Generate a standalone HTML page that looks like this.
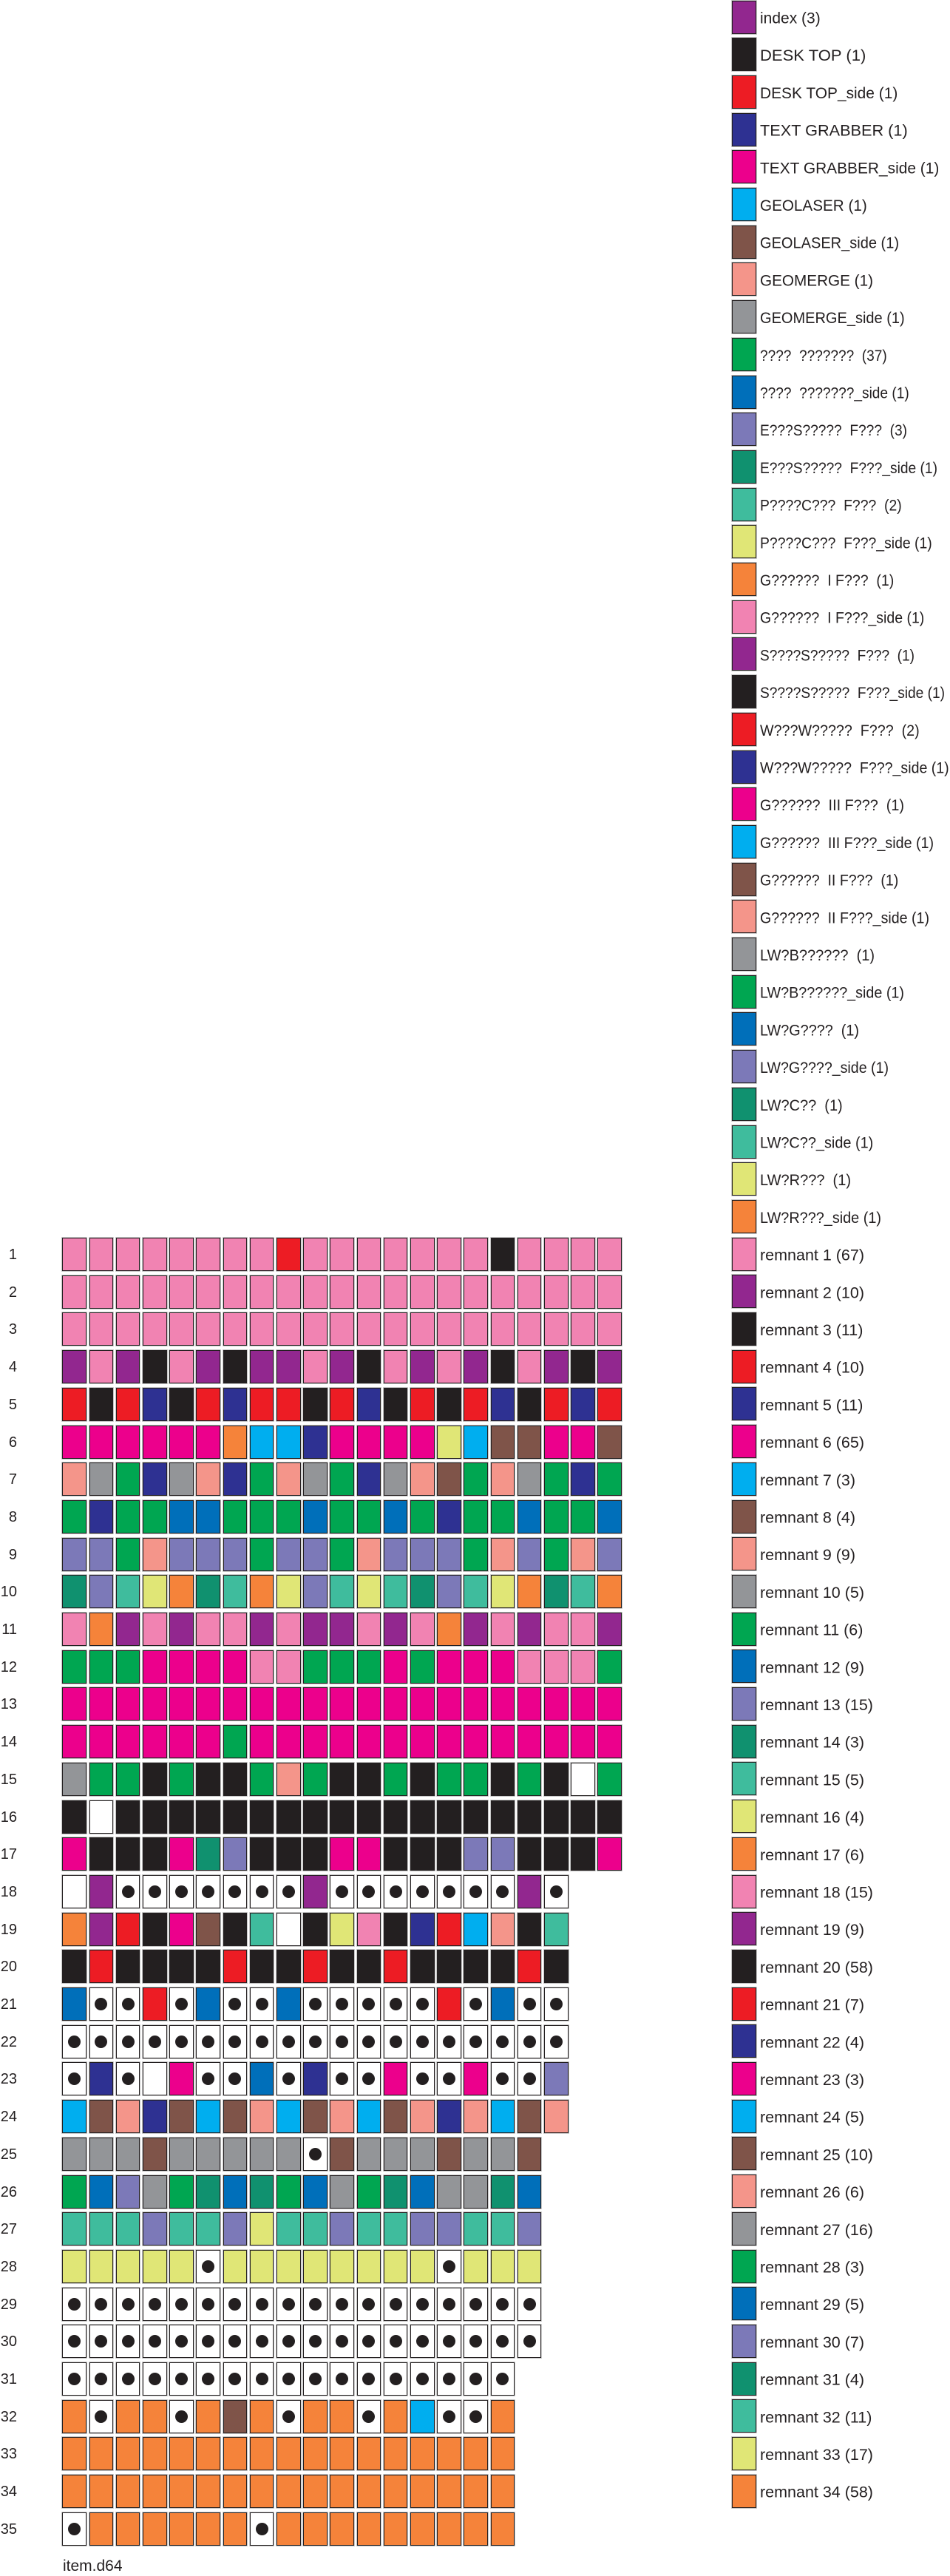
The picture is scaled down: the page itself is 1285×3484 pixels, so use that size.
<!DOCTYPE html>
<html><head><meta charset="utf-8">
<style>
html,body{margin:0;padding:0;background:#fff;}
body{width:1285px;height:3483px;position:relative;overflow:hidden;font-family:"Liberation Sans","DejaVu Sans",sans-serif;color:#231f20;}
.row{position:absolute;left:84.3px;height:45px;display:flex;gap:3.53px;}
.row i,.sw{display:block;box-sizing:border-box;width:32.7px;height:45px;border:1.6px solid #231f20;box-shadow:0 0 0 0.8px #b8b8b8;position:relative;}
.lab{position:absolute;left:0;width:23px;text-align:right;font-size:20px;height:45px;line-height:45px;padding-top:1px;}
.lg{position:absolute;left:990px;height:45px;}
.lg .sw{position:absolute;left:0;top:0;}
.p{background:#f183b2}.u{background:#92278f}.k{background:#231f20}.r{background:#ed1c24}
.n{background:#2e3192}.m{background:#ec008c}.c{background:#00aeef}.b{background:#7f5449}
.s{background:#f4958a}.g{background:#939598}.e{background:#00a651}.a{background:#006fba}
.v{background:#7c79b8}.t{background:#10916f}.ii{background:#3fbc9d}.y{background:#e0e676}
.o{background:#f5833a}.w{background:#fff}.x{background:#fff}
.x::after{content:"";position:absolute;left:50%;top:50%;width:17px;height:17px;margin:-8.5px 0 0 -8.5px;border-radius:50%;background:#231f20;}
.foot{position:absolute;left:85px;top:3458px;font-size:21px;line-height:26px;white-space:pre;}
svg.lt{position:absolute;left:0;top:0;}
svg.lt text{font-family:"Liberation Sans","DejaVu Sans",sans-serif;font-size:21.5px;fill:#231f20;white-space:pre;}
</style></head><body>

<!-- Legend swatches -->
<div class="lg" style="top:0.5px"><i class="sw u"></i></div>
<div class="lg" style="top:51.2px"><i class="sw k"></i></div>
<div class="lg" style="top:101.9px"><i class="sw r"></i></div>
<div class="lg" style="top:152.6px"><i class="sw n"></i></div>
<div class="lg" style="top:203.3px"><i class="sw m"></i></div>
<div class="lg" style="top:254px"><i class="sw c"></i></div>
<div class="lg" style="top:304.7px"><i class="sw b"></i></div>
<div class="lg" style="top:355.4px"><i class="sw s"></i></div>
<div class="lg" style="top:406.1px"><i class="sw g"></i></div>
<div class="lg" style="top:456.8px"><i class="sw e"></i></div>
<div class="lg" style="top:507.5px"><i class="sw a"></i></div>
<div class="lg" style="top:558.2px"><i class="sw v"></i></div>
<div class="lg" style="top:608.9px"><i class="sw t"></i></div>
<div class="lg" style="top:659.6px"><i class="sw ii"></i></div>
<div class="lg" style="top:710.3px"><i class="sw y"></i></div>
<div class="lg" style="top:761px"><i class="sw o"></i></div>
<div class="lg" style="top:811.7px"><i class="sw p"></i></div>
<div class="lg" style="top:862.4px"><i class="sw u"></i></div>
<div class="lg" style="top:913.1px"><i class="sw k"></i></div>
<div class="lg" style="top:963.8px"><i class="sw r"></i></div>
<div class="lg" style="top:1014.5px"><i class="sw n"></i></div>
<div class="lg" style="top:1065.2px"><i class="sw m"></i></div>
<div class="lg" style="top:1115.9px"><i class="sw c"></i></div>
<div class="lg" style="top:1166.6px"><i class="sw b"></i></div>
<div class="lg" style="top:1217.3px"><i class="sw s"></i></div>
<div class="lg" style="top:1268px"><i class="sw g"></i></div>
<div class="lg" style="top:1318.7px"><i class="sw e"></i></div>
<div class="lg" style="top:1369.4px"><i class="sw a"></i></div>
<div class="lg" style="top:1420.1px"><i class="sw v"></i></div>
<div class="lg" style="top:1470.8px"><i class="sw t"></i></div>
<div class="lg" style="top:1521.5px"><i class="sw ii"></i></div>
<div class="lg" style="top:1572.2px"><i class="sw y"></i></div>
<div class="lg" style="top:1622.9px"><i class="sw o"></i></div>
<div class="lg" style="top:1673.6px"><i class="sw p"></i></div>
<div class="lg" style="top:1724.3px"><i class="sw u"></i></div>
<div class="lg" style="top:1775px"><i class="sw k"></i></div>
<div class="lg" style="top:1825.7px"><i class="sw r"></i></div>
<div class="lg" style="top:1876.4px"><i class="sw n"></i></div>
<div class="lg" style="top:1927.1px"><i class="sw m"></i></div>
<div class="lg" style="top:1977.8px"><i class="sw c"></i></div>
<div class="lg" style="top:2028.5px"><i class="sw b"></i></div>
<div class="lg" style="top:2079.2px"><i class="sw s"></i></div>
<div class="lg" style="top:2129.9px"><i class="sw g"></i></div>
<div class="lg" style="top:2180.6px"><i class="sw e"></i></div>
<div class="lg" style="top:2231.3px"><i class="sw a"></i></div>
<div class="lg" style="top:2282px"><i class="sw v"></i></div>
<div class="lg" style="top:2332.7px"><i class="sw t"></i></div>
<div class="lg" style="top:2383.4px"><i class="sw ii"></i></div>
<div class="lg" style="top:2434.1px"><i class="sw y"></i></div>
<div class="lg" style="top:2484.8px"><i class="sw o"></i></div>
<div class="lg" style="top:2535.5px"><i class="sw p"></i></div>
<div class="lg" style="top:2586.2px"><i class="sw u"></i></div>
<div class="lg" style="top:2636.9px"><i class="sw k"></i></div>
<div class="lg" style="top:2687.6px"><i class="sw r"></i></div>
<div class="lg" style="top:2738.3px"><i class="sw n"></i></div>
<div class="lg" style="top:2789px"><i class="sw m"></i></div>
<div class="lg" style="top:2839.7px"><i class="sw c"></i></div>
<div class="lg" style="top:2890.4px"><i class="sw b"></i></div>
<div class="lg" style="top:2941.1px"><i class="sw s"></i></div>
<div class="lg" style="top:2991.8px"><i class="sw g"></i></div>
<div class="lg" style="top:3042.5px"><i class="sw e"></i></div>
<div class="lg" style="top:3093.2px"><i class="sw a"></i></div>
<div class="lg" style="top:3143.9px"><i class="sw v"></i></div>
<div class="lg" style="top:3194.6px"><i class="sw t"></i></div>
<div class="lg" style="top:3245.3px"><i class="sw ii"></i></div>
<div class="lg" style="top:3296px"><i class="sw y"></i></div>
<div class="lg" style="top:3346.7px"><i class="sw o"></i></div>

<!-- Legend text -->
<svg class="lt" width="1285" height="3483" xmlns="http://www.w3.org/2000/svg">
<text x="1028" y="31.5" textLength="81.7" lengthAdjust="spacingAndGlyphs">index (3)</text>
<text x="1028" y="82.2" textLength="143.3" lengthAdjust="spacingAndGlyphs">DESK TOP (1)</text>
<text x="1028" y="132.9" textLength="186.3" lengthAdjust="spacingAndGlyphs">DESK TOP_side (1)</text>
<text x="1028" y="183.6" textLength="199.7" lengthAdjust="spacingAndGlyphs">TEXT GRABBER (1)</text>
<text x="1028" y="234.3" textLength="242.3" lengthAdjust="spacingAndGlyphs">TEXT GRABBER_side (1)</text>
<text x="1028" y="285" textLength="144.7" lengthAdjust="spacingAndGlyphs">GEOLASER (1)</text>
<text x="1028" y="335.7" textLength="188" lengthAdjust="spacingAndGlyphs">GEOLASER_side (1)</text>
<text x="1028" y="386.4" textLength="153" lengthAdjust="spacingAndGlyphs">GEOMERGE (1)</text>
<text x="1028" y="437.1" textLength="195.7" lengthAdjust="spacingAndGlyphs">GEOMERGE_side (1)</text>
<text x="1028" y="487.8" textLength="171.7" lengthAdjust="spacingAndGlyphs">????  ???????  (37)</text>
<text x="1028" y="538.5" textLength="201.7" lengthAdjust="spacingAndGlyphs">????  ???????_side (1)</text>
<text x="1028" y="589.2" textLength="199" lengthAdjust="spacingAndGlyphs">E???S?????  F???  (3)</text>
<text x="1028" y="639.9" textLength="240" lengthAdjust="spacingAndGlyphs">E???S?????  F???_side (1)</text>
<text x="1028" y="690.6" textLength="191.7" lengthAdjust="spacingAndGlyphs">P????C???  F???  (2)</text>
<text x="1028" y="741.3" textLength="232.7" lengthAdjust="spacingAndGlyphs">P????C???  F???_side (1)</text>
<text x="1028" y="792" textLength="181.3" lengthAdjust="spacingAndGlyphs">G??????  I F???  (1)</text>
<text x="1028" y="842.7" textLength="222.3" lengthAdjust="spacingAndGlyphs">G??????  I F???_side (1)</text>
<text x="1028" y="893.4" textLength="209" lengthAdjust="spacingAndGlyphs">S????S?????  F???  (1)</text>
<text x="1028" y="944.1" textLength="250" lengthAdjust="spacingAndGlyphs">S????S?????  F???_side (1)</text>
<text x="1028" y="994.8" textLength="215.7" lengthAdjust="spacingAndGlyphs">W???W?????  F???  (2)</text>
<text x="1028" y="1045.5" textLength="255.7" lengthAdjust="spacingAndGlyphs">W???W?????  F???_side (1)</text>
<text x="1028" y="1096.2" textLength="195" lengthAdjust="spacingAndGlyphs">G??????  III F???  (1)</text>
<text x="1028" y="1146.9" textLength="235" lengthAdjust="spacingAndGlyphs">G??????  III F???_side (1)</text>
<text x="1028" y="1197.6" textLength="187.3" lengthAdjust="spacingAndGlyphs">G??????  II F???  (1)</text>
<text x="1028" y="1248.3" textLength="229" lengthAdjust="spacingAndGlyphs">G??????  II F???_side (1)</text>
<text x="1028" y="1299" textLength="155" lengthAdjust="spacingAndGlyphs">LW?B??????  (1)</text>
<text x="1028" y="1349.7" textLength="195" lengthAdjust="spacingAndGlyphs">LW?B??????_side (1)</text>
<text x="1028" y="1400.4" textLength="134" lengthAdjust="spacingAndGlyphs">LW?G????  (1)</text>
<text x="1028" y="1451.1" textLength="174" lengthAdjust="spacingAndGlyphs">LW?G????_side (1)</text>
<text x="1028" y="1501.8" textLength="111.7" lengthAdjust="spacingAndGlyphs">LW?C??  (1)</text>
<text x="1028" y="1552.5" textLength="153.3" lengthAdjust="spacingAndGlyphs">LW?C??_side (1)</text>
<text x="1028" y="1603.2" textLength="123" lengthAdjust="spacingAndGlyphs">LW?R???  (1)</text>
<text x="1028" y="1653.9" textLength="164" lengthAdjust="spacingAndGlyphs">LW?R???_side (1)</text>
<text x="1028" y="1704.6">remnant 1 (67)</text>
<text x="1028" y="1755.3">remnant 2 (10)</text>
<text x="1028" y="1806">remnant 3 (11)</text>
<text x="1028" y="1856.7">remnant 4 (10)</text>
<text x="1028" y="1907.4">remnant 5 (11)</text>
<text x="1028" y="1958.1">remnant 6 (65)</text>
<text x="1028" y="2008.8">remnant 7 (3)</text>
<text x="1028" y="2059.5">remnant 8 (4)</text>
<text x="1028" y="2110.2">remnant 9 (9)</text>
<text x="1028" y="2160.9">remnant 10 (5)</text>
<text x="1028" y="2211.6">remnant 11 (6)</text>
<text x="1028" y="2262.3">remnant 12 (9)</text>
<text x="1028" y="2313">remnant 13 (15)</text>
<text x="1028" y="2363.7">remnant 14 (3)</text>
<text x="1028" y="2414.4">remnant 15 (5)</text>
<text x="1028" y="2465.1">remnant 16 (4)</text>
<text x="1028" y="2515.8">remnant 17 (6)</text>
<text x="1028" y="2566.5">remnant 18 (15)</text>
<text x="1028" y="2617.2">remnant 19 (9)</text>
<text x="1028" y="2667.9">remnant 20 (58)</text>
<text x="1028" y="2718.6">remnant 21 (7)</text>
<text x="1028" y="2769.3">remnant 22 (4)</text>
<text x="1028" y="2820">remnant 23 (3)</text>
<text x="1028" y="2870.7">remnant 24 (5)</text>
<text x="1028" y="2921.4">remnant 25 (10)</text>
<text x="1028" y="2972.1">remnant 26 (6)</text>
<text x="1028" y="3022.8">remnant 27 (16)</text>
<text x="1028" y="3073.5">remnant 28 (3)</text>
<text x="1028" y="3124.2">remnant 29 (5)</text>
<text x="1028" y="3174.9">remnant 30 (7)</text>
<text x="1028" y="3225.6">remnant 31 (4)</text>
<text x="1028" y="3276.3">remnant 32 (11)</text>
<text x="1028" y="3327">remnant 33 (17)</text>
<text x="1028" y="3377.7">remnant 34 (58)</text>
</svg>

<!-- Row labels -->
<div class="lab" style="top:1674px">1</div>
<div class="lab" style="top:1724.7px">2</div>
<div class="lab" style="top:1775.4px">3</div>
<div class="lab" style="top:1826.1px">4</div>
<div class="lab" style="top:1876.8px">5</div>
<div class="lab" style="top:1927.5px">6</div>
<div class="lab" style="top:1978.2px">7</div>
<div class="lab" style="top:2028.9px">8</div>
<div class="lab" style="top:2079.6px">9</div>
<div class="lab" style="top:2130.3px">10</div>
<div class="lab" style="top:2181px">11</div>
<div class="lab" style="top:2231.7px">12</div>
<div class="lab" style="top:2282.4px">13</div>
<div class="lab" style="top:2333.1px">14</div>
<div class="lab" style="top:2383.8px">15</div>
<div class="lab" style="top:2434.5px">16</div>
<div class="lab" style="top:2485.2px">17</div>
<div class="lab" style="top:2535.9px">18</div>
<div class="lab" style="top:2586.6px">19</div>
<div class="lab" style="top:2637.3px">20</div>
<div class="lab" style="top:2688px">21</div>
<div class="lab" style="top:2738.7px">22</div>
<div class="lab" style="top:2789.4px">23</div>
<div class="lab" style="top:2840.1px">24</div>
<div class="lab" style="top:2890.8px">25</div>
<div class="lab" style="top:2941.5px">26</div>
<div class="lab" style="top:2992.2px">27</div>
<div class="lab" style="top:3042.9px">28</div>
<div class="lab" style="top:3093.6px">29</div>
<div class="lab" style="top:3144.3px">30</div>
<div class="lab" style="top:3195px">31</div>
<div class="lab" style="top:3245.7px">32</div>
<div class="lab" style="top:3296.4px">33</div>
<div class="lab" style="top:3347.1px">34</div>
<div class="lab" style="top:3397.8px">35</div>

<!-- Grid rows -->
<div class="row" style="top:1674px"><i class="p"></i><i class="p"></i><i class="p"></i><i class="p"></i><i class="p"></i><i class="p"></i><i class="p"></i><i class="p"></i><i class="r"></i><i class="p"></i><i class="p"></i><i class="p"></i><i class="p"></i><i class="p"></i><i class="p"></i><i class="p"></i><i class="k"></i><i class="p"></i><i class="p"></i><i class="p"></i><i class="p"></i></div>
<div class="row" style="top:1724.7px"><i class="p"></i><i class="p"></i><i class="p"></i><i class="p"></i><i class="p"></i><i class="p"></i><i class="p"></i><i class="p"></i><i class="p"></i><i class="p"></i><i class="p"></i><i class="p"></i><i class="p"></i><i class="p"></i><i class="p"></i><i class="p"></i><i class="p"></i><i class="p"></i><i class="p"></i><i class="p"></i><i class="p"></i></div>
<div class="row" style="top:1775.4px"><i class="p"></i><i class="p"></i><i class="p"></i><i class="p"></i><i class="p"></i><i class="p"></i><i class="p"></i><i class="p"></i><i class="p"></i><i class="p"></i><i class="p"></i><i class="p"></i><i class="p"></i><i class="p"></i><i class="p"></i><i class="p"></i><i class="p"></i><i class="p"></i><i class="p"></i><i class="p"></i><i class="p"></i></div>
<div class="row" style="top:1826.1px"><i class="u"></i><i class="p"></i><i class="u"></i><i class="k"></i><i class="p"></i><i class="u"></i><i class="k"></i><i class="u"></i><i class="u"></i><i class="p"></i><i class="u"></i><i class="k"></i><i class="p"></i><i class="u"></i><i class="p"></i><i class="u"></i><i class="k"></i><i class="p"></i><i class="u"></i><i class="k"></i><i class="u"></i></div>
<div class="row" style="top:1876.8px"><i class="r"></i><i class="k"></i><i class="r"></i><i class="n"></i><i class="k"></i><i class="r"></i><i class="n"></i><i class="r"></i><i class="r"></i><i class="k"></i><i class="r"></i><i class="n"></i><i class="k"></i><i class="r"></i><i class="k"></i><i class="r"></i><i class="n"></i><i class="k"></i><i class="r"></i><i class="n"></i><i class="r"></i></div>
<div class="row" style="top:1927.5px"><i class="m"></i><i class="m"></i><i class="m"></i><i class="m"></i><i class="m"></i><i class="m"></i><i class="o"></i><i class="c"></i><i class="c"></i><i class="n"></i><i class="m"></i><i class="m"></i><i class="m"></i><i class="m"></i><i class="y"></i><i class="c"></i><i class="b"></i><i class="b"></i><i class="m"></i><i class="m"></i><i class="b"></i></div>
<div class="row" style="top:1978.2px"><i class="s"></i><i class="g"></i><i class="e"></i><i class="n"></i><i class="g"></i><i class="s"></i><i class="n"></i><i class="e"></i><i class="s"></i><i class="g"></i><i class="e"></i><i class="n"></i><i class="g"></i><i class="s"></i><i class="b"></i><i class="e"></i><i class="s"></i><i class="g"></i><i class="e"></i><i class="n"></i><i class="e"></i></div>
<div class="row" style="top:2028.9px"><i class="e"></i><i class="n"></i><i class="e"></i><i class="e"></i><i class="a"></i><i class="a"></i><i class="e"></i><i class="e"></i><i class="e"></i><i class="a"></i><i class="e"></i><i class="e"></i><i class="a"></i><i class="e"></i><i class="n"></i><i class="e"></i><i class="e"></i><i class="a"></i><i class="e"></i><i class="e"></i><i class="a"></i></div>
<div class="row" style="top:2079.6px"><i class="v"></i><i class="v"></i><i class="e"></i><i class="s"></i><i class="v"></i><i class="v"></i><i class="v"></i><i class="e"></i><i class="v"></i><i class="v"></i><i class="e"></i><i class="s"></i><i class="v"></i><i class="v"></i><i class="v"></i><i class="e"></i><i class="s"></i><i class="v"></i><i class="e"></i><i class="s"></i><i class="v"></i></div>
<div class="row" style="top:2130.3px"><i class="t"></i><i class="v"></i><i class="ii"></i><i class="y"></i><i class="o"></i><i class="t"></i><i class="ii"></i><i class="o"></i><i class="y"></i><i class="v"></i><i class="ii"></i><i class="y"></i><i class="ii"></i><i class="t"></i><i class="v"></i><i class="ii"></i><i class="y"></i><i class="o"></i><i class="t"></i><i class="ii"></i><i class="o"></i></div>
<div class="row" style="top:2181px"><i class="p"></i><i class="o"></i><i class="u"></i><i class="p"></i><i class="u"></i><i class="p"></i><i class="p"></i><i class="u"></i><i class="p"></i><i class="u"></i><i class="u"></i><i class="p"></i><i class="u"></i><i class="p"></i><i class="o"></i><i class="u"></i><i class="p"></i><i class="u"></i><i class="p"></i><i class="p"></i><i class="u"></i></div>
<div class="row" style="top:2231.7px"><i class="e"></i><i class="e"></i><i class="e"></i><i class="m"></i><i class="m"></i><i class="m"></i><i class="m"></i><i class="p"></i><i class="p"></i><i class="e"></i><i class="e"></i><i class="e"></i><i class="m"></i><i class="e"></i><i class="m"></i><i class="m"></i><i class="m"></i><i class="p"></i><i class="p"></i><i class="p"></i><i class="e"></i></div>
<div class="row" style="top:2282.4px"><i class="m"></i><i class="m"></i><i class="m"></i><i class="m"></i><i class="m"></i><i class="m"></i><i class="m"></i><i class="m"></i><i class="m"></i><i class="m"></i><i class="m"></i><i class="m"></i><i class="m"></i><i class="m"></i><i class="m"></i><i class="m"></i><i class="m"></i><i class="m"></i><i class="m"></i><i class="m"></i><i class="m"></i></div>
<div class="row" style="top:2333.1px"><i class="m"></i><i class="m"></i><i class="m"></i><i class="m"></i><i class="m"></i><i class="m"></i><i class="e"></i><i class="m"></i><i class="m"></i><i class="m"></i><i class="m"></i><i class="m"></i><i class="m"></i><i class="m"></i><i class="m"></i><i class="m"></i><i class="m"></i><i class="m"></i><i class="m"></i><i class="m"></i><i class="m"></i></div>
<div class="row" style="top:2383.8px"><i class="g"></i><i class="e"></i><i class="e"></i><i class="k"></i><i class="e"></i><i class="k"></i><i class="k"></i><i class="e"></i><i class="s"></i><i class="e"></i><i class="k"></i><i class="k"></i><i class="e"></i><i class="k"></i><i class="e"></i><i class="e"></i><i class="k"></i><i class="e"></i><i class="k"></i><i class="w"></i><i class="e"></i></div>
<div class="row" style="top:2434.5px"><i class="k"></i><i class="w"></i><i class="k"></i><i class="k"></i><i class="k"></i><i class="k"></i><i class="k"></i><i class="k"></i><i class="k"></i><i class="k"></i><i class="k"></i><i class="k"></i><i class="k"></i><i class="k"></i><i class="k"></i><i class="k"></i><i class="k"></i><i class="k"></i><i class="k"></i><i class="k"></i><i class="k"></i></div>
<div class="row" style="top:2485.2px"><i class="m"></i><i class="k"></i><i class="k"></i><i class="k"></i><i class="m"></i><i class="t"></i><i class="v"></i><i class="k"></i><i class="k"></i><i class="k"></i><i class="m"></i><i class="m"></i><i class="k"></i><i class="k"></i><i class="k"></i><i class="v"></i><i class="v"></i><i class="k"></i><i class="k"></i><i class="k"></i><i class="m"></i></div>
<div class="row" style="top:2535.9px"><i class="w"></i><i class="u"></i><i class="x"></i><i class="x"></i><i class="x"></i><i class="x"></i><i class="x"></i><i class="x"></i><i class="x"></i><i class="u"></i><i class="x"></i><i class="x"></i><i class="x"></i><i class="x"></i><i class="x"></i><i class="x"></i><i class="x"></i><i class="u"></i><i class="x"></i></div>
<div class="row" style="top:2586.6px"><i class="o"></i><i class="u"></i><i class="r"></i><i class="k"></i><i class="m"></i><i class="b"></i><i class="k"></i><i class="ii"></i><i class="w"></i><i class="k"></i><i class="y"></i><i class="p"></i><i class="k"></i><i class="n"></i><i class="r"></i><i class="c"></i><i class="s"></i><i class="k"></i><i class="ii"></i></div>
<div class="row" style="top:2637.3px"><i class="k"></i><i class="r"></i><i class="k"></i><i class="k"></i><i class="k"></i><i class="k"></i><i class="r"></i><i class="k"></i><i class="k"></i><i class="r"></i><i class="k"></i><i class="k"></i><i class="r"></i><i class="k"></i><i class="k"></i><i class="k"></i><i class="k"></i><i class="r"></i><i class="k"></i></div>
<div class="row" style="top:2688px"><i class="a"></i><i class="x"></i><i class="x"></i><i class="r"></i><i class="x"></i><i class="a"></i><i class="x"></i><i class="x"></i><i class="a"></i><i class="x"></i><i class="x"></i><i class="x"></i><i class="x"></i><i class="x"></i><i class="r"></i><i class="x"></i><i class="a"></i><i class="x"></i><i class="x"></i></div>
<div class="row" style="top:2738.7px"><i class="x"></i><i class="x"></i><i class="x"></i><i class="x"></i><i class="x"></i><i class="x"></i><i class="x"></i><i class="x"></i><i class="x"></i><i class="x"></i><i class="x"></i><i class="x"></i><i class="x"></i><i class="x"></i><i class="x"></i><i class="x"></i><i class="x"></i><i class="x"></i><i class="x"></i></div>
<div class="row" style="top:2789.4px"><i class="x"></i><i class="n"></i><i class="x"></i><i class="w"></i><i class="m"></i><i class="x"></i><i class="x"></i><i class="a"></i><i class="x"></i><i class="n"></i><i class="x"></i><i class="x"></i><i class="m"></i><i class="x"></i><i class="x"></i><i class="m"></i><i class="x"></i><i class="x"></i><i class="v"></i></div>
<div class="row" style="top:2840.1px"><i class="c"></i><i class="b"></i><i class="s"></i><i class="n"></i><i class="b"></i><i class="c"></i><i class="b"></i><i class="s"></i><i class="c"></i><i class="b"></i><i class="s"></i><i class="c"></i><i class="b"></i><i class="s"></i><i class="n"></i><i class="s"></i><i class="c"></i><i class="b"></i><i class="s"></i></div>
<div class="row" style="top:2890.8px"><i class="g"></i><i class="g"></i><i class="g"></i><i class="b"></i><i class="g"></i><i class="g"></i><i class="g"></i><i class="g"></i><i class="g"></i><i class="x"></i><i class="b"></i><i class="g"></i><i class="g"></i><i class="g"></i><i class="b"></i><i class="g"></i><i class="g"></i><i class="b"></i></div>
<div class="row" style="top:2941.5px"><i class="e"></i><i class="a"></i><i class="v"></i><i class="g"></i><i class="e"></i><i class="t"></i><i class="a"></i><i class="t"></i><i class="e"></i><i class="a"></i><i class="g"></i><i class="e"></i><i class="t"></i><i class="a"></i><i class="g"></i><i class="g"></i><i class="t"></i><i class="a"></i></div>
<div class="row" style="top:2992.2px"><i class="ii"></i><i class="ii"></i><i class="ii"></i><i class="v"></i><i class="ii"></i><i class="ii"></i><i class="v"></i><i class="y"></i><i class="ii"></i><i class="ii"></i><i class="v"></i><i class="ii"></i><i class="ii"></i><i class="v"></i><i class="v"></i><i class="ii"></i><i class="ii"></i><i class="v"></i></div>
<div class="row" style="top:3042.9px"><i class="y"></i><i class="y"></i><i class="y"></i><i class="y"></i><i class="y"></i><i class="x"></i><i class="y"></i><i class="y"></i><i class="y"></i><i class="y"></i><i class="y"></i><i class="y"></i><i class="y"></i><i class="y"></i><i class="x"></i><i class="y"></i><i class="y"></i><i class="y"></i></div>
<div class="row" style="top:3093.6px"><i class="x"></i><i class="x"></i><i class="x"></i><i class="x"></i><i class="x"></i><i class="x"></i><i class="x"></i><i class="x"></i><i class="x"></i><i class="x"></i><i class="x"></i><i class="x"></i><i class="x"></i><i class="x"></i><i class="x"></i><i class="x"></i><i class="x"></i><i class="x"></i></div>
<div class="row" style="top:3144.3px"><i class="x"></i><i class="x"></i><i class="x"></i><i class="x"></i><i class="x"></i><i class="x"></i><i class="x"></i><i class="x"></i><i class="x"></i><i class="x"></i><i class="x"></i><i class="x"></i><i class="x"></i><i class="x"></i><i class="x"></i><i class="x"></i><i class="x"></i><i class="x"></i></div>
<div class="row" style="top:3195px"><i class="x"></i><i class="x"></i><i class="x"></i><i class="x"></i><i class="x"></i><i class="x"></i><i class="x"></i><i class="x"></i><i class="x"></i><i class="x"></i><i class="x"></i><i class="x"></i><i class="x"></i><i class="x"></i><i class="x"></i><i class="x"></i><i class="x"></i></div>
<div class="row" style="top:3245.7px"><i class="o"></i><i class="x"></i><i class="o"></i><i class="o"></i><i class="x"></i><i class="o"></i><i class="b"></i><i class="o"></i><i class="x"></i><i class="o"></i><i class="o"></i><i class="x"></i><i class="o"></i><i class="c"></i><i class="x"></i><i class="x"></i><i class="o"></i></div>
<div class="row" style="top:3296.4px"><i class="o"></i><i class="o"></i><i class="o"></i><i class="o"></i><i class="o"></i><i class="o"></i><i class="o"></i><i class="o"></i><i class="o"></i><i class="o"></i><i class="o"></i><i class="o"></i><i class="o"></i><i class="o"></i><i class="o"></i><i class="o"></i><i class="o"></i></div>
<div class="row" style="top:3347.1px"><i class="o"></i><i class="o"></i><i class="o"></i><i class="o"></i><i class="o"></i><i class="o"></i><i class="o"></i><i class="o"></i><i class="o"></i><i class="o"></i><i class="o"></i><i class="o"></i><i class="o"></i><i class="o"></i><i class="o"></i><i class="o"></i><i class="o"></i></div>
<div class="row" style="top:3397.8px"><i class="x"></i><i class="o"></i><i class="o"></i><i class="o"></i><i class="o"></i><i class="o"></i><i class="o"></i><i class="x"></i><i class="o"></i><i class="o"></i><i class="o"></i><i class="o"></i><i class="o"></i><i class="o"></i><i class="o"></i><i class="o"></i><i class="o"></i></div>

<div class="foot">item.d64</div>
</body></html>
